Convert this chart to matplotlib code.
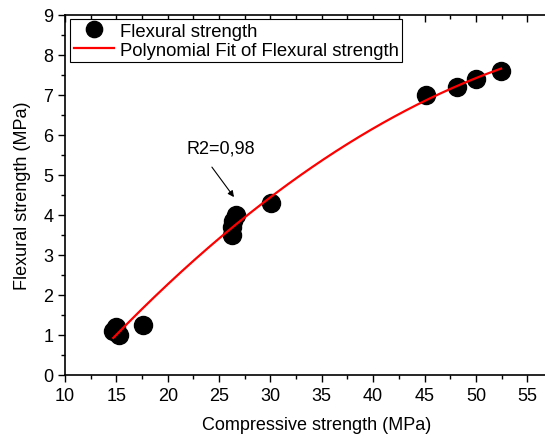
import matplotlib
matplotlib.use("Agg")
import matplotlib.pyplot as plt
import numpy as np
from matplotlib.ticker import MultipleLocator

plt.rcParams["font.family"] = ["Liberation Sans", "DejaVu Sans"]

# Values
compressive = [14.7, 15.0, 15.3, 17.6, 26.3, 26.3, 26.4, 26.6, 30.1, 45.15, 48.2, 50.0, 52.45]
flexural = [1.1, 1.2, 1.0, 1.25, 3.5, 3.7, 3.85, 4.0, 4.3, 7.0, 7.2, 7.4, 7.6]

# Quadratic fit, as in the original
coef = np.polyfit(compressive, flexural, 2)
x_fit = np.linspace(min(compressive), max(compressive), 200)
y_fit = np.polyval(coef, x_fit)

fig = plt.figure(figsize=(5.45, 4.39), dpi=100)
# right edge of the axes runs past the picture, as in the cropped original
ax = fig.add_axes([0.1193, 0.1442, 0.9235, 0.8200])

ax.plot(compressive, flexural, "o", color="black", markersize=13, label="Flexural strength")
ax.plot(x_fit, y_fit, color="red", linewidth=1.6, label="Polynomial Fit of Flexural strength")

ax.text(25.2, 5.68, "R2=0,98", fontsize=13, ha="center", va="center")
ax.annotate("", xy=(26.45, 4.44), xytext=(24.3, 5.19),
            arrowprops=dict(arrowstyle="-|>", color="black", lw=0.8,
                            mutation_scale=9, shrinkA=0, shrinkB=0))

ax.set_xlim(10, 59)
ax.set_ylim(0, 9)
ax.xaxis.set_major_locator(MultipleLocator(5))
ax.xaxis.set_minor_locator(MultipleLocator(2.5))
ax.yaxis.set_major_locator(MultipleLocator(1))
ax.yaxis.set_minor_locator(MultipleLocator(0.5))

ax.tick_params(which="both", direction="out", labelsize=13, width=1, top=True)
ax.tick_params(which="major", length=5)
ax.tick_params(which="minor", length=3)
for t in ax.xaxis.get_major_ticks() + ax.xaxis.get_minor_ticks():
    t.tick2line.set_marker(3)  # inward ticks on top spine
for sp in ax.spines.values():
    sp.set_linewidth(1.2)

ax.set_xlabel("Compressive strength (MPa)", fontsize=13, labelpad=9)
ax.set_ylabel("Flexural strength (MPa)", fontsize=13, labelpad=9)

leg = ax.legend(loc="upper left", bbox_to_anchor=(0.0097, 0.988), borderaxespad=0,
                fontsize=13.3, fancybox=False, edgecolor="black", framealpha=1,
                handlelength=2.2, handletextpad=0.3, labelspacing=0.1,
                borderpad=0.2, numpoints=1, markerscale=0.9)
leg.get_frame().set_linewidth(0.8)

fig.savefig("out.png", dpi=100)
